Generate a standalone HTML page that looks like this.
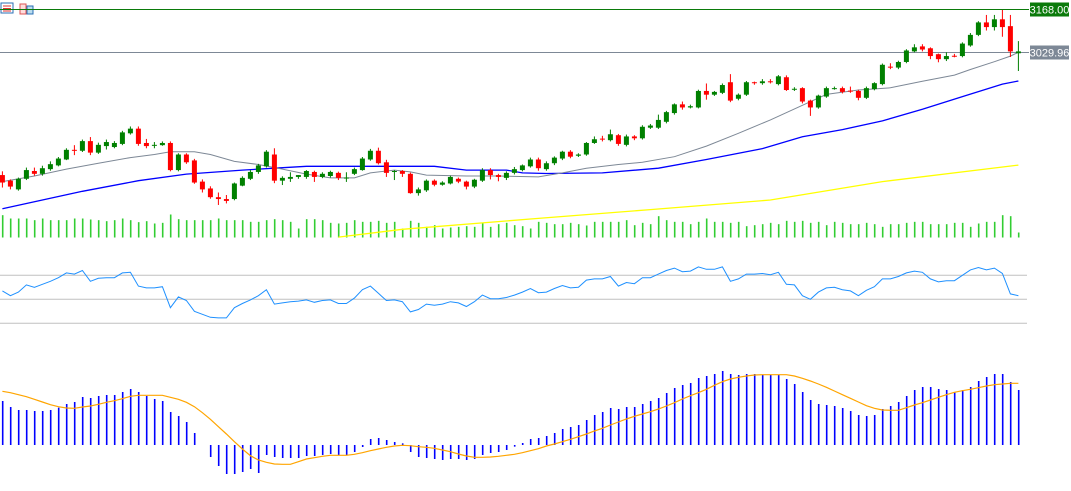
<!DOCTYPE html>
<html><head><meta charset="utf-8"><style>
html,body{margin:0;padding:0;background:#fff;width:1071px;height:491px;overflow:hidden}
svg{display:block;font-family:"Liberation Sans",sans-serif}
</style></head><body>
<svg id="chart" width="1071" height="491" xmlns="http://www.w3.org/2000/svg">
<g>
<rect x="1" y="3" width="12" height="10" fill="#fff" stroke="#2a6fb5"/>
<line x1="3" y1="6" x2="11" y2="6" stroke="#d33"/><line x1="3" y1="8.5" x2="11" y2="8.5" stroke="#d33"/><line x1="3" y1="11" x2="11" y2="11" stroke="#d33"/>
<rect x="20" y="4" width="6" height="10" fill="#fdd" stroke="#d55"/>
<rect x="27" y="6" width="6" height="8" fill="#bde" stroke="#2a6fb5"/>
</g>
<g id="price"></g><g id="rsi"></g><g id="macd"></g>
</svg>
<script>
const opens=[2636,2618,2590,2624,2649,2640,2655,2667,2686,2717,2714,2745,2708,2729,2726,2736,2770,2785,2739,2732,2732,2739,2652,2702,2683,2615,2593,2565,2559,2559,2602,2624,2646,2664,2702,2618,2624,2630,2630,2646,2630,2633,2643,2627,2640,2652,2686,2714,2677,2646,2649,2640,2578,2587,2618,2605,2609,2624,2615,2599,2618,2652,2636,2627,2643,2652,2664,2686,2655,2674,2689,2711,2698,2702,2739,2753,2748,2764,2733,2760,2754,2788,2788,2807,2835,2863,2853,2853,2906,2894,2900,2934,2881,2894,2934,2931,2937,2928,2950,2912,2915,2875,2853,2888,2914,2915,2907,2906,2884,2912,2928,2984,2981,2999,3033,3049,3043,3024,3008,3019,3018,3052,3086,3126,3111,3136,3114,3027];
const closes=[2612,2599,2624,2652,2640,2658,2671,2689,2717,2714,2745,2708,2733,2742,2739,2773,2785,2736,2729,2733,2739,2652,2702,2677,2612,2590,2565,2559,2553,2609,2627,2646,2667,2711,2618,2627,2630,2636,2649,2630,2640,2646,2627,2628,2655,2689,2714,2674,2643,2649,2640,2578,2590,2618,2605,2612,2630,2615,2599,2621,2652,2636,2630,2643,2655,2667,2686,2658,2674,2692,2711,2695,2702,2739,2751,2751,2767,2736,2760,2754,2791,2795,2813,2838,2863,2853,2857,2906,2894,2903,2925,2875,2894,2934,2931,2937,2934,2953,2909,2913,2872,2853,2891,2915,2915,2903,2906,2884,2915,2931,2990,2981,2999,3036,3046,3039,3018,3008,3018,3018,3058,3086,3126,3111,3136,3111,3033,3033];
const highs=[2648,2622,2628,2660,2660,2666,2680,2694,2722,2732,2750,2758,2740,2750,2745,2778,2792,2792,2752,2742,2744,2744,2706,2706,2688,2622,2600,2580,2572,2612,2632,2652,2672,2716,2722,2632,2645,2636,2652,2650,2645,2650,2647,2645,2660,2694,2720,2724,2685,2652,2652,2644,2596,2622,2622,2616,2634,2628,2618,2624,2658,2658,2640,2648,2662,2670,2692,2692,2680,2696,2714,2716,2706,2742,2760,2762,2782,2768,2766,2764,2796,2800,2830,2842,2866,2872,2862,2910,2930,2906,2930,2960,2898,2938,2936,2944,2944,2957,2956,2918,2918,2878,2894,2920,2920,2920,2920,2910,2920,2934,2994,2995,3003,3040,3056,3056,3046,3026,3030,3025,3062,3092,3130,3150,3150,3166,3150,3066];
const lows=[2596,2590,2586,2620,2634,2634,2650,2664,2684,2700,2710,2700,2704,2718,2722,2732,2766,2730,2722,2722,2730,2648,2648,2672,2608,2580,2560,2540,2545,2555,2600,2620,2640,2660,2610,2604,2614,2624,2624,2614,2626,2628,2620,2614,2636,2650,2682,2670,2630,2620,2630,2576,2570,2582,2600,2602,2606,2610,2590,2594,2614,2622,2616,2620,2638,2648,2660,2650,2650,2668,2684,2690,2694,2698,2736,2744,2744,2730,2728,2748,2750,2784,2784,2802,2830,2846,2850,2850,2878,2890,2896,2870,2876,2890,2926,2926,2930,2924,2906,2906,2866,2826,2849,2884,2910,2898,2900,2876,2880,2908,2924,2976,2976,2995,3030,3033,3008,2998,3002,3014,3014,3048,3082,3100,3100,3080,3015,2970];
const volumes=[67,57,57,57,52,57,52,52,52,57,57,54,52,49,52,57,52,46,49,42,44,69,55,52,52,52,52,57,52,52,52,47,47,52,55,52,47,27,55,55,52,44,42,44,52,47,47,50,44,47,27,50,44,32,37,27,30,32,34,32,44,32,40,44,37,34,27,47,44,40,40,44,40,36,47,47,47,47,52,37,44,40,64,52,47,47,40,47,57,47,47,44,47,34,37,40,44,40,50,47,50,44,47,37,47,44,40,40,44,40,32,40,40,44,47,47,40,40,40,44,44,32,42,47,47,67,64,15];
const maFastIdx=[0,4,8,12,16,19,21,24,26,29,32,35,38,41,44,46,49,51,53,58,62,67,70,73,77,80,84,88,92,96,100,103,107,111,115,119,121,124,126,127];
const maFastVal=[2615,2633,2655,2674,2692,2702,2711,2711,2702,2680,2670,2655,2639,2627,2627,2643,2652,2646,2636,2633,2633,2630,2643,2658,2670,2677,2695,2729,2770,2813,2860,2895,2909,2916,2937,2957,2975,3000,3018,3030];
const maMidIdx=[0,10,17,23,30,34,38,44,54,58,63,65,68,75,82,88,95,100,105,110,115,120,125,127];
const maMidVal=[2528,2584,2618,2639,2652,2658,2664,2664,2664,2652,2652,2643,2641,2643,2658,2686,2721,2759,2782,2810,2847,2888,2928,2938];
const maSlowIdx=[42,50,66,81,96,110,127];
const maSlowVal=[2437,2462,2495,2525,2556,2615,2668];
const rsiVals=[57,53,56,62,60,62.5,65,68,72,71,74,65,67.5,68,68,72,72.5,61,59.5,59.5,60.5,43,52,49,40,37.5,35,34.5,34.5,43,46.5,49.5,53,58,46,47,48,48.5,49.5,47.5,49,49.5,46.5,46.5,51,58,61,55,49,49.5,48,39.5,41.5,46,45,46,48,47,44,48,53.5,50.5,50.5,51.5,53.5,56,59,55.5,56,59,61.5,59.5,60,66,67,67,69,61,64,63,68,68,71,74,76,73,73.5,77,75,75,77,65,67,71,71,71.5,70.5,72.5,62.5,62,53,50,56,59.5,60,58,57,53,57.5,60.5,67,67,69,72,73.5,72.5,67,64.5,65.5,65.5,70,74.5,76.5,74.5,76,71.5,54.5,53];
const rsiLevels=[70,50,30];
const macdHist=[132,114,105,105,102,102,105,112,123,129,144,141,147,150,150,159,168,159,147,138,132,99,87,69,36,0,-36,-63,-87,-87,-81,-72,-84,-30,-36,-39,-39,-39,-33,-33,-30,-27,-30,-30,-21,-6,18,21,15,9,5,-21,-36,-39,-42,-45,-42,-42,-45,-42,-30,-24,-21,-15,-5,6,18,21,27,36,48,54,60,75,90,99,111,108,114,114,123,132,141,156,171,180,186,201,207,213,222,213,210,213,213,210,210,210,198,183,159,135,123,120,117,111,102,90,87,90,108,117,129,147,165,174,174,168,165,159,165,174,192,204,213,213,189,165];
const macdSignal=[161,157,151,145,137,129,121,115,111,110,114,117,122,128,133,139,146,149,149,149,149,143,137,128,115,97,77,55,33,10,-12,-32,-45,-52,-57,-58,-58,-50,-42,-38,-34,-31,-31,-31,-28,-23,-17,-12,-7,-3,-1,-2,-5,-7,-10,-15,-20,-27,-33,-37,-37,-36,-34,-31,-28,-23,-17,-11,-3,3,10,17,25,33,42,50,60,69,78,86,93,100,108,117,127,138,148,157,167,179,190,198,203,207,210,211,211,211,211,207,200,192,183,173,162,151,140,129,118,110,105,104,104,112,120,127,135,143,151,158,163,167,172,177,181,183,185,185];
const priceLabels=["3168.00","3029.96"];
const priceLevels=[3168,3029.96];

const NS="http://www.w3.org/2000/svg";
function mk(parent,tag,attrs){const e=document.createElementNS(NS,tag);for(const k in attrs)e.setAttribute(k,attrs[k]);parent.appendChild(e);return e;}
const xOf=i=>2.4+i*8;
const yP=p=>9.33+(3168-p)/3.21;
const yR=v=>299.3-(v-50)*1.2;
const yM=v=>445-v/3;
const yV=v=>237.5-v/3;
const N=closes.length;
const gp=document.getElementById('price');

// level lines
const lvlColors=["#0a7a0a","#7d8896"];
priceLevels.forEach((p,k)=>{
  const y=Math.round(yP(p))+0.5;
  const l=mk(gp,'line',{x1:0,x2:1029,y1:y,y2:y,stroke:lvlColors[k],'stroke-width':1});
  
  
  const r=mk(gp,'rect',{x:1030,y:y-7,width:39,height:14,fill:lvlColors[k]});
  
  
  const t=mk(gp,'text',{x:1049.5,y:y+4,'text-anchor':'middle','font-size':11,fill:'#fff'});
  t.textContent=priceLabels[k];
  
  
});

// volumes
for(let i=0;i<Math.min(N,volumes.length);i++){
  const r=mk(gp,'rect',{x:xOf(i)-0.5,y:yV(volumes[i]),width:1.6,height:237.5-yV(volumes[i]),fill:'#32cd32'});
  
  
}
// MAs
function maLine(idx,val,color,name,w){
  const pts=idx.map((ix,k)=>xOf(ix).toFixed(1)+','+yP(val[k]).toFixed(1)).join(' ');
  const pl=mk(gp,'polyline',{points:pts,fill:'none',stroke:color,'stroke-width':w});
  
  
}
maLine(maSlowIdx,maSlowVal,'#ffff00','ma-slow-line',1.3);
maLine(maMidIdx,maMidVal,'#0000ff','ma-medium-line',1.3);
maLine(maFastIdx,maFastVal,'#7d8896','ma-fast-line',1);

// candles
for(let i=0;i<N;i++){
  const up=closes[i]>=opens[i];
  const col=up?'#008000':'#ff0000';
  const x=xOf(i);
  const g=mk(gp,'g',{});
  
  
  mk(g,'line',{x1:x,x2:x,y1:yP(highs[i]),y2:yP(lows[i]),stroke:col,'stroke-width':1});
  const t=yP(Math.max(opens[i],closes[i])),b=yP(Math.min(opens[i],closes[i]));
  mk(g,'rect',{x:x-2.5,y:t,width:5,height:Math.max(1,b-t),fill:col});
}

// RSI
const gr=document.getElementById('rsi');
rsiLevels.forEach(v=>{
  const l=mk(gr,'line',{x1:0,x2:1027,y1:yR(v),y2:yR(v),stroke:'#c0c0c0','stroke-width':1});
  
  
});
const rp=mk(gr,'polyline',{points:rsiVals.map((v,i)=>xOf(i).toFixed(1)+','+yR(v).toFixed(1)).join(' '),fill:'none',stroke:'#1e90ff','stroke-width':1});



// MACD
const gm=document.getElementById('macd');
macdHist.forEach((v,i)=>{
  if(v===0)return;
  const y0=445,y1=yM(v);
  const r=mk(gm,'rect',{x:xOf(i)-0.5,y:Math.min(y0,y1),width:1.6,height:Math.abs(y1-y0),fill:'#0000ff'});
  
  
});
const sp=mk(gm,'polyline',{points:macdSignal.map((v,i)=>xOf(i).toFixed(1)+','+yM(v).toFixed(1)).join(' '),fill:'none',stroke:'#ffa500','stroke-width':1.2});


</script>
</body></html>
